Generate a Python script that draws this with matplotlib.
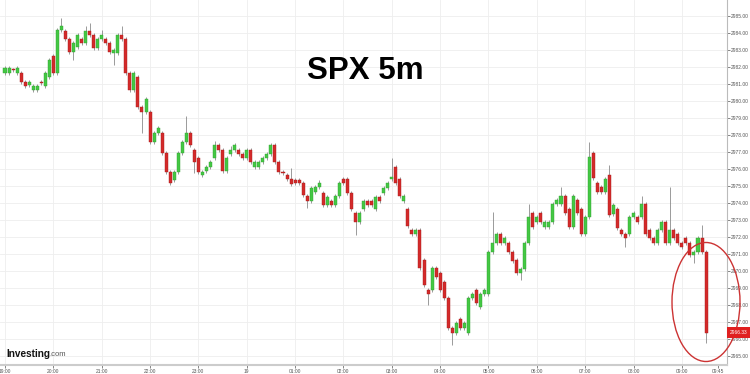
import matplotlib
matplotlib.use("Agg")
import matplotlib.pyplot as plt
from matplotlib.patches import Ellipse, Rectangle
import numpy as np

# 5 minute candles, 19:00 -> 09:30
opens = [
    2981.63, 2981.63, 2981.81, 2981.63, 2981.63, 2981.10, 2980.92, 2980.63, 2980.63, 2981.10,
    2980.86, 2981.39, 2982.63, 2981.63, 2984.16, 2984.10, 2983.63, 2982.86, 2983.16, 2983.63,
    2983.39, 2984.10, 2983.86, 2983.10, 2983.63, 2983.63, 2983.39, 2982.81, 2982.81, 2983.86,
    2983.63, 2981.63, 2980.63, 2981.39, 2979.63, 2979.34, 2979.34, 2977.57, 2978.10, 2978.10,
    2976.92, 2975.81, 2975.34, 2975.81, 2976.92, 2977.57, 2978.10, 2977.10, 2976.63, 2975.63,
    2975.86, 2976.10, 2976.63, 2977.39, 2977.10, 2975.86, 2976.87, 2977.10, 2977.10, 2976.87,
    2976.63, 2977.10, 2976.10, 2976.10, 2976.39, 2976.63, 2976.87, 2977.39, 2976.39, 2975.81,
    2975.63, 2975.39, 2975.34, 2975.34, 2975.16, 2974.39, 2974.10, 2974.63, 2974.92, 2974.57,
    2973.87, 2974.10, 2973.87, 2974.39, 2975.39, 2975.39, 2974.57, 2973.39, 2972.86, 2973.63,
    2974.10, 2974.10, 2973.63, 2974.34, 2974.57, 2974.87, 2975.39, 2976.10, 2975.39, 2974.10,
    2973.63, 2972.39, 2972.16, 2972.39, 2970.63, 2968.86, 2968.86, 2970.16, 2969.86, 2969.34,
    2968.39, 2966.63, 2966.34, 2967.16, 2966.63, 2966.34, 2968.39, 2968.86, 2967.87, 2968.63,
    2968.63, 2971.10, 2971.63, 2972.16, 2971.63, 2971.63, 2971.10, 2970.63, 2969.86, 2970.10,
    2971.63, 2973.39, 2972.86, 2973.39, 2972.57, 2972.57, 2972.86, 2973.92, 2973.92, 2974.39,
    2973.63, 2972.57, 2974.16, 2973.63, 2972.16, 2973.16, 2976.92, 2975.16, 2974.92, 2974.63,
    2975.63, 2973.34, 2973.63, 2972.39, 2972.16, 2972.16, 2973.16, 2973.16, 2973.16, 2973.92,
    2972.39, 2971.92, 2971.63, 2972.39, 2972.86, 2971.63, 2972.39, 2972.16, 2971.63, 2971.92,
    2971.63, 2970.92, 2971.10, 2971.92, 2971.10,
]
closes = [
    2981.92, 2981.92, 2981.78, 2981.92, 2981.10, 2980.86, 2981.10, 2980.86, 2980.86, 2981.04,
    2981.63, 2982.39, 2981.63, 2984.16, 2984.39, 2983.63, 2982.86, 2983.39, 2983.86, 2983.39,
    2984.10, 2983.86, 2983.10, 2983.63, 2983.86, 2983.39, 2982.86, 2982.98, 2983.86, 2983.63,
    2981.63, 2980.63, 2981.63, 2979.63, 2979.34, 2980.10, 2977.57, 2978.10, 2978.39, 2976.92,
    2975.81, 2975.16, 2975.81, 2976.92, 2977.57, 2978.10, 2977.39, 2976.39, 2975.81, 2975.81,
    2976.10, 2976.39, 2977.39, 2977.10, 2975.86, 2976.63, 2977.10, 2977.39, 2976.87, 2976.63,
    2977.10, 2976.39, 2976.39, 2976.39, 2976.63, 2976.87, 2977.39, 2976.39, 2975.81, 2975.75,
    2975.39, 2975.10, 2975.16, 2975.16, 2974.45, 2974.10, 2974.87, 2974.92, 2975.16, 2973.87,
    2974.34, 2973.87, 2974.39, 2975.16, 2975.16, 2974.57, 2973.63, 2972.86, 2973.39, 2974.10,
    2973.87, 2973.87, 2974.34, 2974.10, 2974.87, 2975.16, 2975.51, 2975.16, 2974.39, 2974.39,
    2972.63, 2972.16, 2972.39, 2970.16, 2969.16, 2968.63, 2970.16, 2969.63, 2968.86, 2968.39,
    2966.63, 2966.34, 2966.92, 2966.63, 2966.92, 2968.39, 2968.63, 2968.10, 2968.63, 2968.86,
    2971.10, 2971.63, 2972.16, 2971.63, 2971.92, 2971.10, 2970.57, 2969.86, 2970.10, 2971.63,
    2973.16, 2972.57, 2973.16, 2972.86, 2972.86, 2972.86, 2973.92, 2974.16, 2974.39, 2973.39,
    2972.57, 2974.39, 2973.39, 2972.16, 2973.16, 2976.69, 2975.45, 2974.63, 2974.63, 2975.39,
    2973.28, 2973.87, 2972.51, 2972.16, 2971.92, 2973.16, 2973.39, 2972.86, 2973.92, 2972.16,
    2971.92, 2971.63, 2972.39, 2972.86, 2971.63, 2972.39, 2971.92, 2971.63, 2971.39, 2971.63,
    2970.92, 2971.10, 2971.92, 2971.10, 2966.33,
]
# long wicks (candle index -> price)
wick_highs = {14: 2984.86, 20: 2984.39, 21: 2984.57, 24: 2984.16, 29: 2984.39, 45: 2979.10,
              52: 2977.63, 56: 2977.34, 71: 2976.04, 78: 2975.34, 96: 2976.63, 121: 2973.45,
              130: 2973.92, 138: 2974.92, 145: 2977.57, 150: 2976.22, 158: 2974.39,
              165: 2974.92, 173: 2972.69}
wick_lows = {17: 2982.39, 27: 2982.10, 34: 2978.10, 47: 2975.75, 75: 2973.69, 87: 2972.10,
             105: 2967.98, 111: 2965.63, 128: 2969.45, 154: 2971.39, 171: 2970.45, 174: 2965.75}

time_labels = ["19:00", "20:00", "21:00", "22:00", "23:00", "19", "01:00", "02:00",
               "03:00", "04:00", "05:00", "06:00", "07:00", "08:00", "09:00", "09:45"]
time_pos = [0, 12, 24, 36, 48, 60, 72, 84, 96, 108, 120, 132, 144, 156, 168, 177]
price_ticks = list(range(2965, 2986))
last_price = 2966.33

W, H = 750, 374
fig = plt.figure(figsize=(W / 100, H / 100), dpi=100)
ax = fig.add_axes([0, 9 / H, 727 / W, 365 / H])

o = np.array(opens)
c = np.array(closes)
idx = np.arange(len(o))
hi = np.maximum(o, c) + 0.12
lo = np.minimum(o, c) - 0.12
for k, v in wick_highs.items():
    hi[k] = v
for k, v in wick_lows.items():
    lo[k] = v

up = c >= o
ax.vlines(idx, lo, hi, color='#8a8a8a', lw=0.6, zorder=2)
body = np.where(np.abs(c - o) < 0.05, 0.05, c - o)
ax.bar(idx[up], body[up], bottom=o[up], width=0.75, color='#44c844',
       edgecolor='#30a030', linewidth=0.3, zorder=3)
ax.bar(idx[~up], body[~up], bottom=o[~up], width=0.75, color='#d42a2a',
       edgecolor='#a51c1c', linewidth=0.3, zorder=3)

ax.set_xlim(-1.24, 179.2)
ax.set_ylim(2964.45, 2985.92)

for p in price_ticks:
    ax.axhline(p, color='#eeeeee', lw=0.6, zorder=0)
for t in time_pos[:-1]:
    ax.axvline(t, color='#eeeeee', lw=0.6, zorder=0)

ax.yaxis.tick_right()
ax.set_yticks(price_ticks)
ax.set_yticklabels([f"{p:.2f}" for p in price_ticks], family='Liberation Sans')
ax.set_xticks(time_pos)
ax.set_xticklabels(time_labels, family='Liberation Sans')
ax.tick_params(axis='both', labelsize=3.5, colors='#555555', length=2, width=0.5)
ax.tick_params(axis='y', pad=0.8)
ax.tick_params(axis='x', pad=0.6)

for s in ['top', 'left']:
    ax.spines[s].set_visible(False)
ax.spines['right'].set_color('#bbbbbb')
ax.spines['right'].set_linewidth(0.8)
ax.spines['bottom'].set_color('#cccccc')
ax.spines['bottom'].set_linewidth(1.5)

fig.text(365 / W, 1 - 71 / H, "SPX 5m", fontsize=22.5, fontweight='bold',
         family='Liberation Sans', ha='center', va='center', color='black')

fig.text(6 / W, 1 - 354 / H, "Investing", fontsize=7.2, fontweight='bold',
         family='Liberation Sans', ha='left', va='center', color='#111111')
fig.text(49 / W, 1 - 355 / H, ".com", fontsize=5.5, family='Liberation Sans',
         ha='left', va='center', color='#555555')

fig.add_artist(Ellipse((706 / W, 1 - 302 / H), 68 / W, 119 / H, transform=fig.transFigure,
                       fill=False, edgecolor='#cc3333', lw=1.0))

fig.add_artist(Rectangle((727 / W, 1 - 338 / H), 23 / W, 11 / H, transform=fig.transFigure,
                         facecolor='#e02020', edgecolor='none'))
fig.text(738.5 / W, 1 - 332.5 / H, f"{last_price:.2f}", fontsize=3.5, color='white',
         family='Liberation Sans', ha='center', va='center')

fig.savefig("out.png", dpi=100)
